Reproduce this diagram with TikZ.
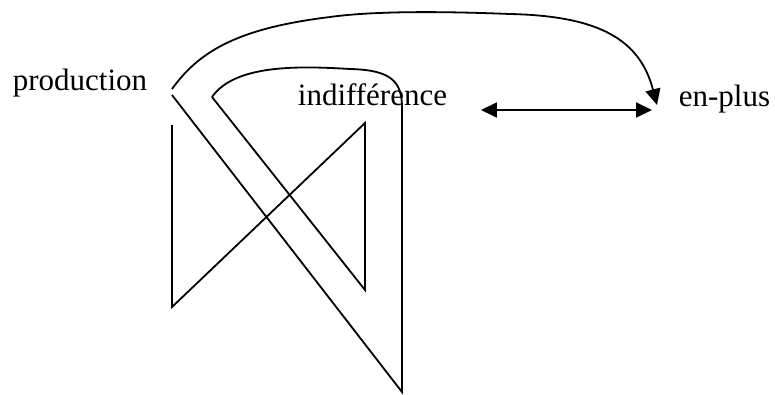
\documentclass[tikz,border=0pt]{standalone}
\usepackage{fontspec}
\setmainfont{Liberation Serif}
\usetikzlibrary{arrows.meta,calc}

\begin{document}
\begin{tikzpicture}[x=1pt,y=-1pt,line width=1.8pt,
  lbl/.style={anchor=base west, inner sep=0pt, font=\fontsize{31}{36}\selectfont},
  tip/.style={-{Triangle[length=16pt,width=15pt]}},
  dbl/.style={{Triangle[length=16pt,width=15pt]}-{Triangle[length=16pt,width=15pt]}}]
\useasboundingbox (0,0) rectangle (775,394);
\node[lbl] (prod) at (12,90) {production};
\node[lbl] (ind) at (297,105) {indifférence};
\node[lbl] (plus) at (678,106) {en-plus};
\coordinate (start) at (172,89);
\draw (172,125) -- (172,307) -- (365,123) -- (365,290) -- (212,97);
\draw (172,95) -- (402,392) -- (402,108) .. controls (402,82) and (392,70) .. (350,69)
  .. controls (300,66) and (235,64) .. (212,97);
\draw[tip] (start) .. controls (200,50) and (240,28) .. (330,17)
  .. controls (380,10) and (460,12) .. (510,14)
  .. controls (600,16) and (640,40) .. ($(plus.base west)+(-21,-1)$);
\draw[dbl] ($(ind.base east)+(33,5)$) -- ($(plus.base west)+(-26,4)$);
\end{tikzpicture}
\end{document}
